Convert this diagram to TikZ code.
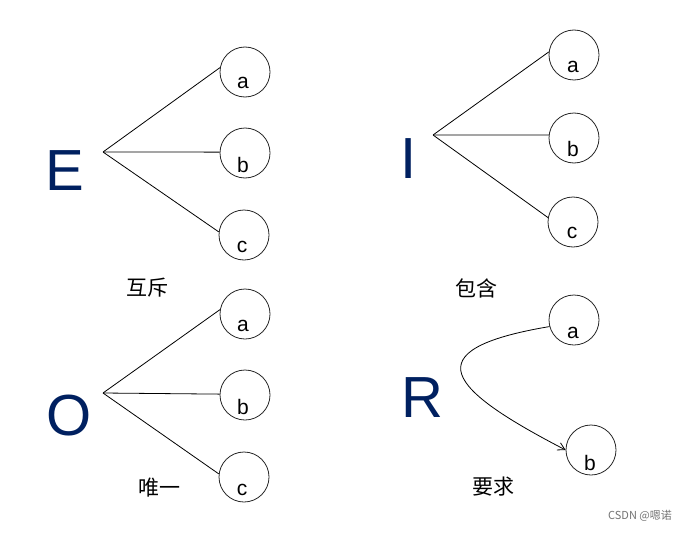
\documentclass[tikz,border=0pt]{standalone}
\usepackage{fontspec}
\setmainfont{Liberation Sans}
\newfontfamily\cjk{Noto Sans CJK SC}
\usetikzlibrary{arrows.meta}
\definecolor{bigblue}{RGB}{0,32,96}
\tikzset{
  ball/.style={circle,draw=black!85,line width=0.8pt,minimum size=50pt,inner sep=0pt},
  balltext/.style={font=\fontsize{21}{21}\selectfont,inner sep=0pt},
  bigletter/.style={font=\fontsize{58}{58}\selectfont,text=bigblue,inner sep=0pt},
  cjklabel/.style={font=\cjk\fontsize{21}{21}\selectfont,inner sep=0pt},
  link/.style={line width=0.8pt,black},
}
\begin{document}
\begin{tikzpicture}[x=1pt,y=-1pt]
\useasboundingbox (0,0) rectangle (692,532);
% ---------- E ----------
\node[bigletter] (E) at (65,171) {E};
\coordinate (ev) at (103,152);
\node[ball] (ea) at (245,72) {};
\node[ball] (eb) at (245,153) {};
\node[ball] (ec) at (244,235) {};
\node[balltext] (eat) at (243,83) {a};
\node[balltext] (ebt) at (243,165) {b};
\node[balltext] (ect) at (242,247) {c};
\draw[link] (ev) -- (ea.170);
\draw[link] (ev) -- (eb.178);
\draw[link] (ev) -- (ec.173);
\node[cjklabel] (elab) at (147,288) {互斥};
% ---------- I ----------
\node[bigletter] (I) at (409,159) {I};
\coordinate (iv) at (433,135);
\node[ball] (ia) at (574,55) {};
\node[ball] (ib) at (574,138) {};
\node[ball] (ic) at (573,222) {};
\node[balltext] (iat) at (573,67) {a};
\node[balltext] (ibt) at (573,149) {b};
\node[balltext] (ict) at (572,233) {c};
\draw[link] (iv) -- (ia.173);
\draw[link] (iv) -- (ib.173);
\draw[link] (iv) -- (ic.170);
\node[cjklabel] (ilab) at (476,288) {包含};
% ---------- O ----------
\node[bigletter] (O) at (69,416) {O};
\coordinate (ov) at (103,393);
\node[ball] (oa) at (245,314) {};
\node[ball] (ob) at (245,395) {};
\node[ball] (oc) at (244,477) {};
\node[balltext] (oat) at (243,326) {a};
\node[balltext] (obt) at (243,407) {b};
\node[balltext] (oct) at (242,490) {c};
\draw[link] (ov) -- (oa.170);
\draw[link] (ov) -- (ob.178);
\draw[link] (ov) -- (oc.173);
\node[cjklabel] (olab) at (159,488) {唯一};
% ---------- R ----------
\node[bigletter] (R) at (422,398) {R};
\node[ball] (ra) at (574,320) {};
\node[ball] (rb) at (591,450) {};
\node[balltext] (rat) at (573,333) {a};
\node[balltext] (rbt) at (590,463) {b};
\draw[link,-{Straight Barb[length=7pt,width=8pt]}] (ra.195) .. controls (410,350) and (450,390) .. (rb.west);
\node[cjklabel] (rlab) at (493,487) {要求};
% ---------- watermark ----------
\node[font=\cjk\fontsize{11}{11}\selectfont,text=black!55,inner sep=0pt] (wm) at (640,516) {CSDN @嗯诺};
\end{tikzpicture}
\end{document}
